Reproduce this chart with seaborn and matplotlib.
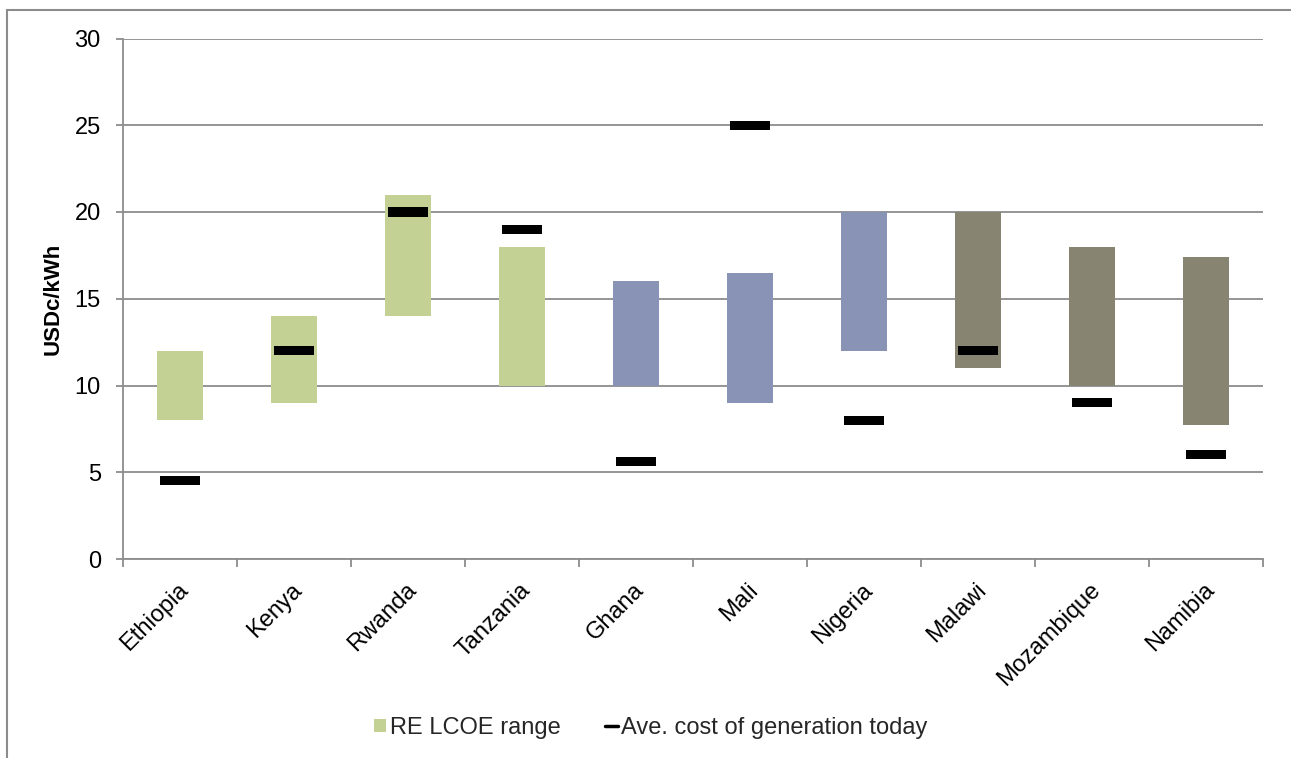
import numpy as np
import pandas as pd
import matplotlib
matplotlib.use("Agg")
import matplotlib.pyplot as plt
from matplotlib.patches import Patch, Rectangle
from matplotlib.lines import Line2D
import matplotlib.transforms as mtransforms
import seaborn as sns

# Renewable-energy LCOE range vs. today's average generation cost (USDc/kWh)
countries = ["Ethiopia", "Kenya", "Rwanda", "Tanzania", "Ghana",
             "Mali", "Nigeria", "Malawi", "Mozambique", "Namibia"]
lcoe_low = [8, 9, 14, 10, 10, 9, 12, 11, 10, 7.7]
lcoe_high = [12, 14, 21, 18, 16, 16.5, 20, 20, 18, 17.4]
avg_cost = [4.5, 12, 20, 19, 5.6, 25, 8, 12, 9, 6]
region = ["East", "East", "East", "East", "West",
          "West", "West", "Southern", "Southern", "Southern"]
region_colors = {"East": "#C3D194", "West": "#8993B5", "Southern": "#878571"}
y_ticks = [0, 5, 10, 15, 20, 25, 30]

df = pd.DataFrame({
    "country": countries,
    "low": lcoe_low,
    "high": lcoe_high,
    "avg": avg_cost,
    "region": region,
})
df["span"] = df["high"] - df["low"]

sns.set_theme(style="white")
plt.rcParams["font.family"] = ["Liberation Sans", "DejaVu Sans"]

grey = "#8C8C8C"
fs = 17

fig = plt.figure(figsize=(12.91, 7.58), dpi=100)
ax = fig.add_axes([123 / 1291, 1 - 559 / 758, (1263 - 123) / 1291, (559 - 38.5) / 758])

# Floating range bars
sns.barplot(data=df, x="country", y="span", bottom=df["low"].to_numpy(),
            color=region_colors["East"], saturation=1, width=0.4,
            linewidth=0, ax=ax, zorder=2)
for patch, reg in zip(ax.patches, df["region"]):
    patch.set_facecolor(region_colors[reg])

# Short horizontal dash for the current average cost
dash = [(-2.25, -0.5), (2.25, -0.5), (2.25, 0.5), (-2.25, 0.5)]
sns.scatterplot(data=df, x="country", y="avg", marker=dash, s=860,
                color="black", edgecolor="none", linewidth=0,
                ax=ax, zorder=3, legend=False)

ax.set_ylim(0, 30)
ax.set_xlim(-0.5, len(countries) - 0.5)
ax.set_yticks(y_ticks)
ax.set_yticklabels([str(t) for t in y_ticks], fontsize=fs, color="black")
ax.yaxis.grid(True, color=grey, linewidth=1.3, zorder=0)
ax.set_axisbelow(True)

ax.set_xticks(np.arange(len(countries)))
ax.set_xticklabels(countries, rotation=45, ha="right", va="center",
                   rotation_mode="anchor", fontsize=fs, color="black")
ax.set_xticks(np.arange(-0.5, len(countries), 1), minor=True)
ax.tick_params(axis="x", which="major", length=0, pad=20)
ax.tick_params(axis="x", which="minor", length=6, width=1.3, color=grey, bottom=True)
ax.tick_params(axis="y", length=5, width=1.3, color=grey, left=True, pad=11)
offset = mtransforms.ScaledTranslation(5 / 100, 0, fig.dpi_scale_trans)
for lbl in ax.get_xticklabels():
    lbl.set_transform(lbl.get_transform() + offset)

for side in ["top", "right"]:
    ax.spines[side].set_visible(False)
for side in ["left", "bottom"]:
    ax.spines[side].set_color(grey)
    ax.spines[side].set_linewidth(1.3)

ax.set_xlabel("")
ax.set_ylabel("USDc/kWh", fontsize=16, fontweight="bold", labelpad=8, color="black")

handles = [
    Patch(facecolor=region_colors["East"], edgecolor="none", label="RE LCOE range"),
    Line2D([0], [0], color="black", linewidth=2.5, label="Ave. cost of generation today"),
]
fig.legend(handles=handles, loc="center", bbox_to_anchor=(0.504, 0.0396),
           ncol=2, frameon=False, fontsize=fs, handlelength=0.52,
           handleheight=0.52, handletextpad=0.15, columnspacing=1.9)

# Outer chart frame
fig.patches.append(Rectangle((7 / 1291, -0.1), 1.2, (1 - 10 / 758) + 0.1,
                             transform=fig.transFigure, fill=False,
                             edgecolor=grey, linewidth=1.5))

fig.savefig("out.png", dpi=100)
